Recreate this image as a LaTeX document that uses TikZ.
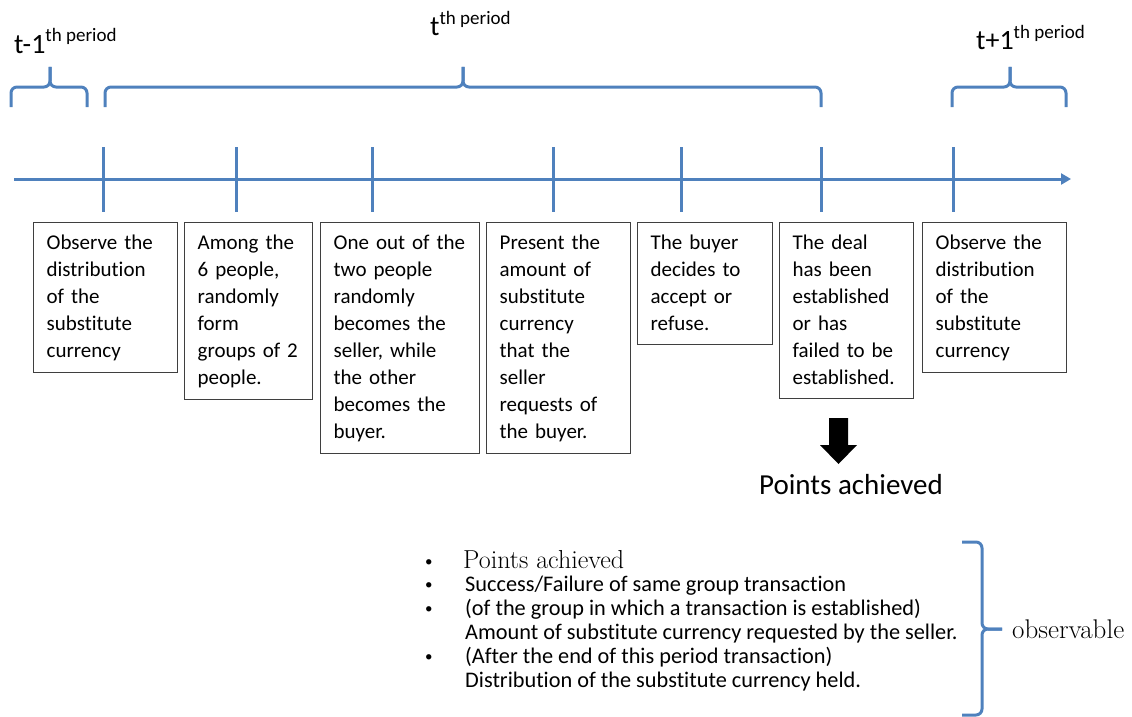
\documentclass[tikz,border=0pt]{standalone}
\usepackage{fontspec}
\newfontfamily\carl[Ligatures=NoCommon]{Carlito}
\usetikzlibrary{arrows.meta}
\definecolor{axisblue}{HTML}{4F81BD}
\definecolor{boxgray}{HTML}{3F3F3F}
\newcommand\boxfont{\carl\fontsize{21}{27}\selectfont}
\newcommand\listfont{\carl\fontsize{22.3}{24}\selectfont}
\tikzset{
  bluel/.style={draw=axisblue, line width=3pt, rounded corners=6pt},
  tickl/.style={draw=axisblue, line width=3pt},
  stepbox/.style={draw=boxgray, line width=1.3pt, anchor=north west, inner xsep=13pt, inner ysep=7pt, align=left, text height=20pt, font=\boxfont},
  period/.style={anchor=base west, inner sep=0pt, font=\carl\fontsize{28}{30}\selectfont},
  listitem/.style={anchor=base west, inner sep=0pt, font=\listfont},
  bulletitem/.style={anchor=base west, inner sep=0pt, font=\carl\fontsize{15}{16}\selectfont},
}
\newcommand\supl[1]{\raisebox{11pt}{\fontsize{19}{20}\selectfont #1}}
\begin{document}
\begin{tikzpicture}[x=1pt,y=-1pt]
\useasboundingbox (0,0) rectangle (1132,717);
% period labels
\node[period] (lprev) at (14,53) {t-1\supl{th period}};
\node[period] (lcur) at (430,36) {t\supl{th period}};
\node[period] (lnext) at (976,50) {t+1\supl{th period}};
% braces
\draw[bluel] (11,107) -- (11,87) -- (50,87) -- (50,67);
\draw[bluel] (87,107) -- (87,87) -- (50,87) -- (50,67);
\draw[bluel] (105,107) -- (105,87) -- (463,87) -- (463,67);
\draw[bluel] (821,107) -- (821,87) -- (463,87) -- (463,67);
\draw[bluel] (952,107) -- (952,87) -- (1010,87) -- (1010,67);
\draw[bluel] (1066,107) -- (1066,87) -- (1010,87) -- (1010,67);
% axis
\coordinate (astart) at (14,179);
\coordinate (aend) at (1071,179);
\draw[tickl, -{Triangle[length=10pt,width=11pt]}] (astart) -- (aend);
\foreach \x in {103,236,372,553,681,821,953}
  \draw[tickl] (\x,147) -- (\x,212);
% boxes
\node[stepbox, text width=118pt, text depth=116pt] (b1) at (33,222) {Observe the\\distribution\\of the\\substitute\\currency};
\node[stepbox, text width=102pt, text depth=143pt] (b2) at (184,222) {Among the\\6 people,\\randomly\\form\\groups of 2\\people.};
\node[stepbox, text width=133pt, text depth=197pt] (b3) at (320,222) {One out of the\\two people\\randomly\\becomes the\\seller, while\\the other\\becomes the\\buyer.};
\node[stepbox, text width=118pt, text depth=197pt] (b4) at (486,222) {Present the\\amount of\\substitute\\currency\\that the\\seller\\requests of\\the buyer.};
\node[stepbox, text width=109pt, text depth=88pt] (b5) at (637,222) {The buyer\\decides to\\accept or\\refuse.};
\node[stepbox, text width=108pt, text depth=142pt] (b6) at (779,222) {The deal\\has been\\established\\or has\\failed to be\\established.};
\node[stepbox, text width=118pt, text depth=116pt] (b7) at (922,222) {Observe the\\distribution\\of the\\substitute\\currency};
% big arrow
\fill[black] (829,418) -- (848,418) -- (848,445) -- (857,445) -- (838.5,464) -- (820,445) -- (829,445) -- cycle;
\node[anchor=base, inner sep=0pt, font=\carl\fontsize{29}{32}\selectfont] (pts) at (851,494) {Points achieved};
% list
\foreach \y [count=\i] in {566,589,613,661}
  \node[bulletitem] (bul\i) at (425,\y) {•};
\node[anchor=base west, inner sep=0pt, font=\rmfamily\fontsize{26}{28}\selectfont] (i1) at (463,568) {Points achieved};
\node[listitem] (i2) at (465,591) {Success/Failure of same group transaction};
\node[listitem] (i3) at (465,615) {(of the group in which a transaction is established)};
\node[listitem] (i4) at (465,639) {Amount of substitute currency requested by the seller.};
\node[listitem] (i5) at (465,663) {(After the end of this period transaction)};
\node[listitem] (i6) at (465,687) {Distribution of the substitute currency held.};
% right brace
\draw[bluel] (962,542) -- (982,542) -- (982,629) -- (1002,629);
\draw[bluel] (962,715) -- (982,715) -- (982,629) -- (1002,629);
\node[anchor=base west, inner sep=0pt, font=\rmfamily\fontsize{27}{29}\selectfont] (obs) at (1012,638) {observable};
\end{tikzpicture}
\end{document}
